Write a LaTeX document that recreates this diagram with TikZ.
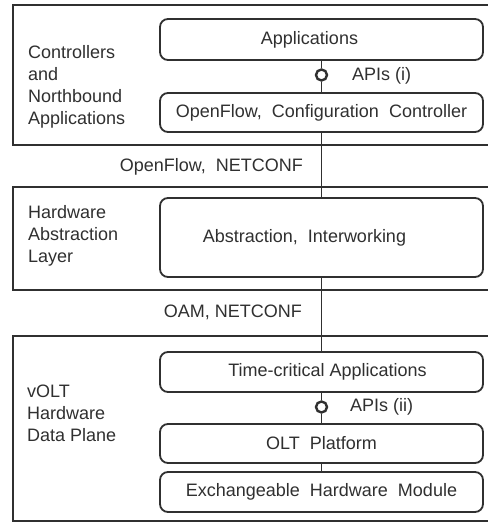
\documentclass[tikz,border=0pt]{standalone}
\usepackage{fontspec}
\setmainfont{Liberation Sans}
\definecolor{ink}{HTML}{303030}
\begin{document}
\begin{tikzpicture}[x=1pt,y=-1pt,
  every node/.style={text=ink, font=\fontsize{18}{22}\selectfont},
  layer/.style={draw=ink, line width=2pt},
  block/.style={draw=ink, line width=1.8pt, rounded corners=8pt, minimum width=323pt, inner sep=0pt},
  iface/.style={circle, draw=ink, line width=2.4pt, fill=white, minimum size=11pt, inner sep=0pt},
  link/.style={draw=ink, line width=1.8pt},
  side/.style={align=left, anchor=west, inner sep=0pt},
  plain/.style={inner sep=0pt}]
\clip (0,0) rectangle (488,523);
\fill[white] (0,0) rectangle (488,523);
% layers
\draw[layer] (13,5) rectangle (500,145);
\draw[layer] (13,187) rectangle (500,290);
\draw[layer] (13,336) rectangle (500,521);
% blocks
\node[block, minimum height=41pt] (app) at (321.5,39.5) {\hspace*{-24pt}Applications};
\node[block, minimum height=39pt] (cfg) at (321.5,112.5) {OpenFlow,\ \ Configuration\ \ Controller};
\node[block, minimum height=79pt] (abs) at (321.5,237.5) {\hspace*{-34pt}\raisebox{-5pt}{Abstraction,\ \ Interworking}};
\node[block, minimum height=40pt] (tca) at (321.5,372) {\hspace*{12pt}Time-critical Applications};
\node[block, minimum height=39pt] (olt) at (321.5,443.5) {OLT\ \ Platform};
\node[block, minimum height=40pt] (ehm) at (321.5,492) {Exchangeable\ \ Hardware\ \ Module};
% interfaces
\node[iface] (i1) at (321.5,75) {};
\node[iface] (i2) at (321.5,407) {};
% connectors
\draw[link] (app) -- (i1) -- (cfg);
\draw[link] (cfg) -- (abs);
\draw[link] (abs) -- (tca);
\draw[link] (tca) -- (i2) -- (olt);
\draw[link] (olt) -- (ehm);
% labels
\node[plain, anchor=west] (api1) at (352,76) {APIs (i)};
\node[plain, anchor=west] (api2) at (350,407) {APIs (ii)};
\node[plain, anchor=east] (ofn) at (303,167) {OpenFlow,\ \ NETCONF};
\node[plain, anchor=east] (oam) at (302,312) {OAM, NETCONF};
% side titles
\node[side] (l1) at (28,87) {Controllers\\and\\Northbound\\Applications};
\node[side] (l2) at (28,236) {Hardware\\Abstraction\\Layer};
\node[side] (l3) at (27,413) {vOLT\\Hardware\\Data Plane};
\end{tikzpicture}
\end{document}
